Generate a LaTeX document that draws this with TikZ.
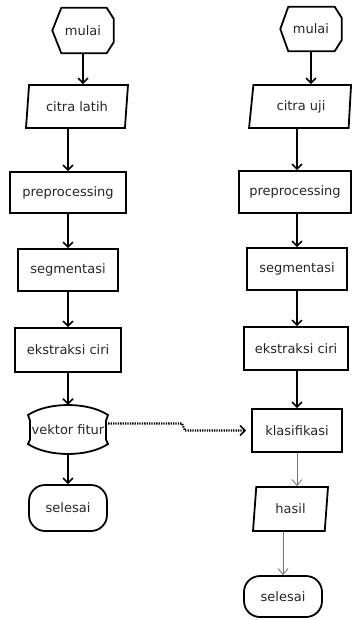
\documentclass[tikz,border=0pt]{standalone}
\usepackage{fontspec}
\setmainfont{DejaVu Sans}
\usetikzlibrary{shapes.geometric,arrows.meta}
\begin{document}
\begin{tikzpicture}[x=1pt,y=-1pt,
  txt/.style={font=\fontsize{13}{15}\selectfont, text=black!85, inner sep=0pt},
  outline/.style={draw=black, line width=1.8pt, line join=miter},
  proc/.style={txt, outline, rectangle},
  io/.style={txt, outline, trapezium, trapezium stretches body},
  term/.style={txt, outline, rectangle, rounded corners=16pt},
  arr/.style={line width=1.8pt, -{Straight Barb[length=5pt,width=10pt,line width=1.5pt]}},
  thinarr/.style={line width=0.8pt, draw=black!55, -{Straight Barb[length=6pt,width=10pt,line width=0.8pt]}},
  dotline/.style={line width=2.2pt, dash pattern=on 1.3pt off 1.1pt, shorten >=5pt,
    -{Straight Barb[length=5pt,width=10pt,line width=1.5pt]}}
]
\useasboundingbox (0,0) rectangle (352,620);

% ---------- left column ----------
\node[txt, minimum width=61pt, minimum height=45pt] (m1) at (83,30.5) {mulai};
\draw[outline] (m1.west) -- ([xshift=9pt]m1.north west) -- ([xshift=-7pt]m1.north east)
  -- ([yshift=-11pt]m1.north east) -- ([yshift=11pt]m1.south east)
  -- ([xshift=-7pt]m1.south east) -- ([xshift=9pt]m1.south west) -- cycle;

\node[io, trapezium left angle=73, trapezium right angle=107,
  minimum width=102pt, minimum height=43pt] (cl) at (77,106.5) {citra latih};
\node[proc, minimum width=116pt, minimum height=41pt] (pp1) at (68,192.5) {preprocessing};
\node[proc, minimum width=100pt, minimum height=42pt] (sg1) at (68,270) {segmentasi};
\node[proc, minimum width=106pt, minimum height=44pt] (ek1) at (68,350) {ekstraksi ciri};

\node[txt, minimum width=80pt, minimum height=49pt] (vf) at (68,429.5) {vektor fitur};
\draw[outline, shift={(vf.center)}] (-40,-14.5) .. controls (-20,-27.8) and (20,-27.8) .. (40,-14.5)
  -- (38,-9) -- (38,10) -- (40,14.5) .. controls (20,27.8) and (-20,27.8) .. (-40,14.5)
  -- (-38,10) -- (-38,-9) -- cycle;

\node[term, minimum width=78pt, minimum height=46pt] (sl1) at (68,508) {selesai};

% ---------- right column ----------
\node[txt, minimum width=61pt, minimum height=44pt] (m2) at (311,29) {mulai};
\draw[outline] (m2.west) -- ([xshift=8pt]m2.north west) -- ([xshift=-7pt]m2.north east)
  -- ([yshift=-11pt]m2.north east) -- ([yshift=11pt]m2.south east)
  -- ([xshift=-7pt]m2.south east) -- ([xshift=8pt]m2.south west) -- cycle;

\node[io, trapezium left angle=71, trapezium right angle=101,
  minimum width=102pt, minimum height=43pt] (cu) at (301,106.5) {citra uji};
\node[proc, minimum width=112pt, minimum height=42pt] (pp2) at (295,192) {preprocessing};
\node[proc, minimum width=100pt, minimum height=42pt] (sg2) at (297,269) {segmentasi};
\node[proc, minimum width=104pt, minimum height=43pt] (ek2) at (296,348.5) {ekstraksi ciri};
\node[proc, minimum width=90pt, minimum height=43pt] (kl) at (297,430.5) {klasifikasi};
\node[io, trapezium left angle=72, trapezium right angle=108,
  minimum width=75pt, minimum height=44pt] (hs) at (290.5,509) {hasil};
\node[term, minimum width=78pt, minimum height=41pt] (sl2) at (283,596.5) {selesai};

% ---------- connectors left ----------
\draw[arr] (m1.south) -- (m1.south |- cl.north);
\draw[arr] (cl.south -| pp1.north) -- (pp1.north);
\draw[arr] (pp1.south) -- (pp1.south |- sg1.north);
\draw[arr] (sg1.south) -- (sg1.south |- ek1.north);
\draw[arr] (ek1.south) -- (ek1.south |- vf.north);
\draw[arr] (vf.south) -- (vf.south |- sl1.north);

% ---------- connectors right ----------
\draw[arr] (m2.south) -- (m2.south |- cu.north);
\draw[arr] (cu.south -| sg2.north) -- (sg2.north |- pp2.north);
\draw[arr] (pp2.south -| sg2.north) -- (sg2.north);
\draw[arr] (sg2.south) -- (sg2.south |- ek2.north);
\draw[arr] (ek2.south -| kl.north) -- (kl.north);
\draw[thinarr] (kl.south) -- (kl.south |- hs.north);
\draw[thinarr] (hs.south -| sl2.north) -- (sl2.north);

% ---------- dotted link ----------
\coordinate (j1) at (182,423.5);
\coordinate (j2) at (185,430.5);
\draw[dotline] ([yshift=6pt]vf.east) -- (j1) -- (j2) -- (kl.west);
\end{tikzpicture}
\end{document}
